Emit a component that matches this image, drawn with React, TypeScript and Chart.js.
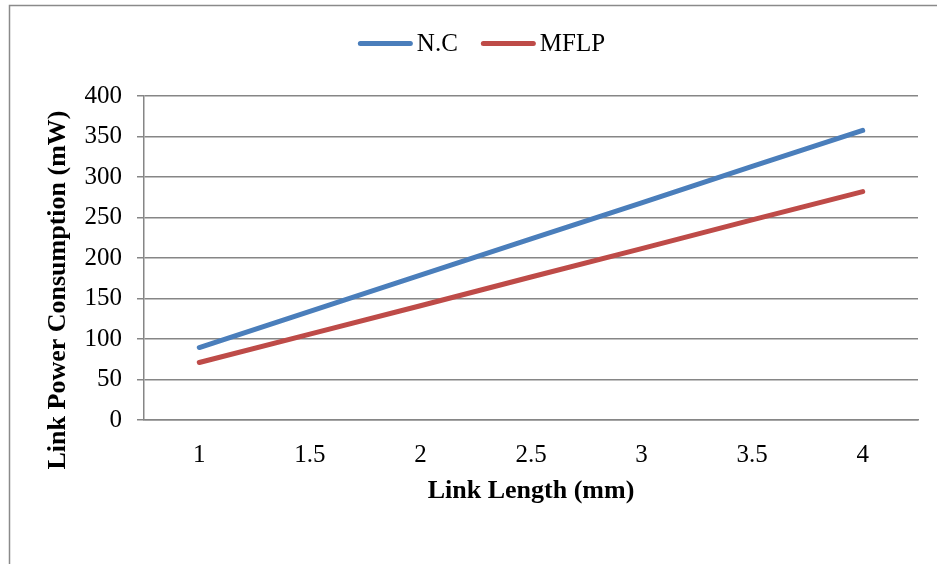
import React, { useEffect, useRef } from 'react';
import { Chart, registerables } from 'chart.js';

Chart.register(...registerables);

const categories = ['1', '1.5', '2', '2.5', '3', '3.5', '4'];
const ncValues = [89.5, 134, 179, 223.5, 268, 313, 357.5];
const mflpValues = [71, 106, 141, 176.5, 211.5, 247, 282];
const seriesNames = ['N.C', 'MFLP'];
const seriesColors = ['#4A7EBB', '#BE4B48'];
const yMin = 0;
const yMax = 400;
const yStep = 50;
const xTitle = 'Link Length (mm)';
const yTitle = 'Link Power Consumption (mW)';

const FONT = "'Liberation Serif', 'Times New Roman', serif";
const GRID = '#868686';

const decor = {
  id: 'decor',
  beforeDraw(chart: any) {
    const ctx = chart.ctx;
    ctx.save();
    ctx.fillStyle = '#ffffff';
    ctx.fillRect(0, 0, chart.width, chart.height);
    ctx.strokeStyle = '#8a8a8a';
    ctx.lineWidth = 1.5;
    ctx.strokeRect(9.5, 5.5, 2000, 2000);
    ctx.restore();
  },
  afterDraw(chart: any) {
    const ctx = chart.ctx;
    ctx.save();
    // legend
    ctx.font = `25px ${FONT}`;
    ctx.textBaseline = 'middle';
    const lineLen = 55;
    const gap = 4;
    const itemGap = 23;
    const widths = seriesNames.map((n) => ctx.measureText(n).width);
    let total = 0;
    widths.forEach((w, i) => {
      total += lineLen + gap + w + (i < widths.length - 1 ? itemGap : 0);
    });
    let x = 481.5 - total / 2;
    const ly = 43.5;
    seriesNames.forEach((n, i) => {
      ctx.strokeStyle = seriesColors[i];
      ctx.lineWidth = 5;
      ctx.lineCap = 'round';
      ctx.beginPath();
      ctx.moveTo(x + 2.5, ly);
      ctx.lineTo(x + lineLen - 2.5, ly);
      ctx.stroke();
      ctx.fillStyle = '#000';
      ctx.textAlign = 'left';
      ctx.fillText(n, x + lineLen + gap, ly + 1);
      x += lineLen + gap + widths[i] + itemGap;
    });
    // axis titles
    ctx.font = `bold 26px ${FONT}`;
    ctx.fillStyle = '#000';
    ctx.textAlign = 'center';
    ctx.textBaseline = 'middle';
    const area = chart.chartArea;
    ctx.fillText(xTitle, (area.left + area.right) / 2, 491);
    ctx.translate(58, 290);
    ctx.rotate(-Math.PI / 2);
    ctx.fillText(yTitle, 0, 0);
    ctx.restore();
  },
};

export default function App() {
  const ref = useRef<HTMLCanvasElement | null>(null);
  useEffect(() => {
    if (!ref.current) return;
    const chart = new Chart(ref.current, {
      type: 'line',
      data: {
        labels: categories,
        datasets: [
          {
            label: seriesNames[0],
            data: ncValues,
            borderColor: seriesColors[0],
            backgroundColor: seriesColors[0],
            borderWidth: 5,
            borderCapStyle: 'round',
            borderJoinStyle: 'round',
            pointRadius: 0,
            tension: 0,
          },
          {
            label: seriesNames[1],
            data: mflpValues,
            borderColor: seriesColors[1],
            backgroundColor: seriesColors[1],
            borderWidth: 5,
            borderCapStyle: 'round',
            borderJoinStyle: 'round',
            pointRadius: 0,
            tension: 0,
          },
        ],
      },
      options: {
        responsive: false,
        animation: false,
        devicePixelRatio: 1,
        layout: { padding: { top: 96, right: 19, left: 0, bottom: 0 } },
        plugins: {
          legend: { display: false },
          tooltip: { enabled: false },
          title: { display: false },
        },
        scales: {
          x: {
            offset: true,
            grid: { display: false, drawTicks: false },
            border: { display: true, color: GRID, width: 1.5 },
            ticks: {
              color: '#000',
              font: { family: FONT, size: 25 },
              padding: 20,
              maxRotation: 0,
            },
            afterFit: (scale: any) => {
              scale.height = 144;
            },
          },
          y: {
            min: yMin,
            max: yMax,
            ticks: {
              stepSize: yStep,
              color: '#000',
              font: { family: FONT, size: 25 },
              padding: 15,
            },
            grid: { color: GRID, lineWidth: 1.5, tickLength: 7, drawTicks: true },
            border: { display: true, color: GRID, width: 1.5 },
            afterFit: (scale: any) => {
              scale.width = 144;
            },
          },
        },
      },
      plugins: [decor],
    });
    return () => chart.destroy();
  }, []);
  return (
    <div style={{ position: 'fixed', left: 0, top: 0, width: 937, height: 564, background: '#fff' }}>
      <canvas ref={ref} width={937} height={564} style={{ display: 'block' }} />
    </div>
  );
}
